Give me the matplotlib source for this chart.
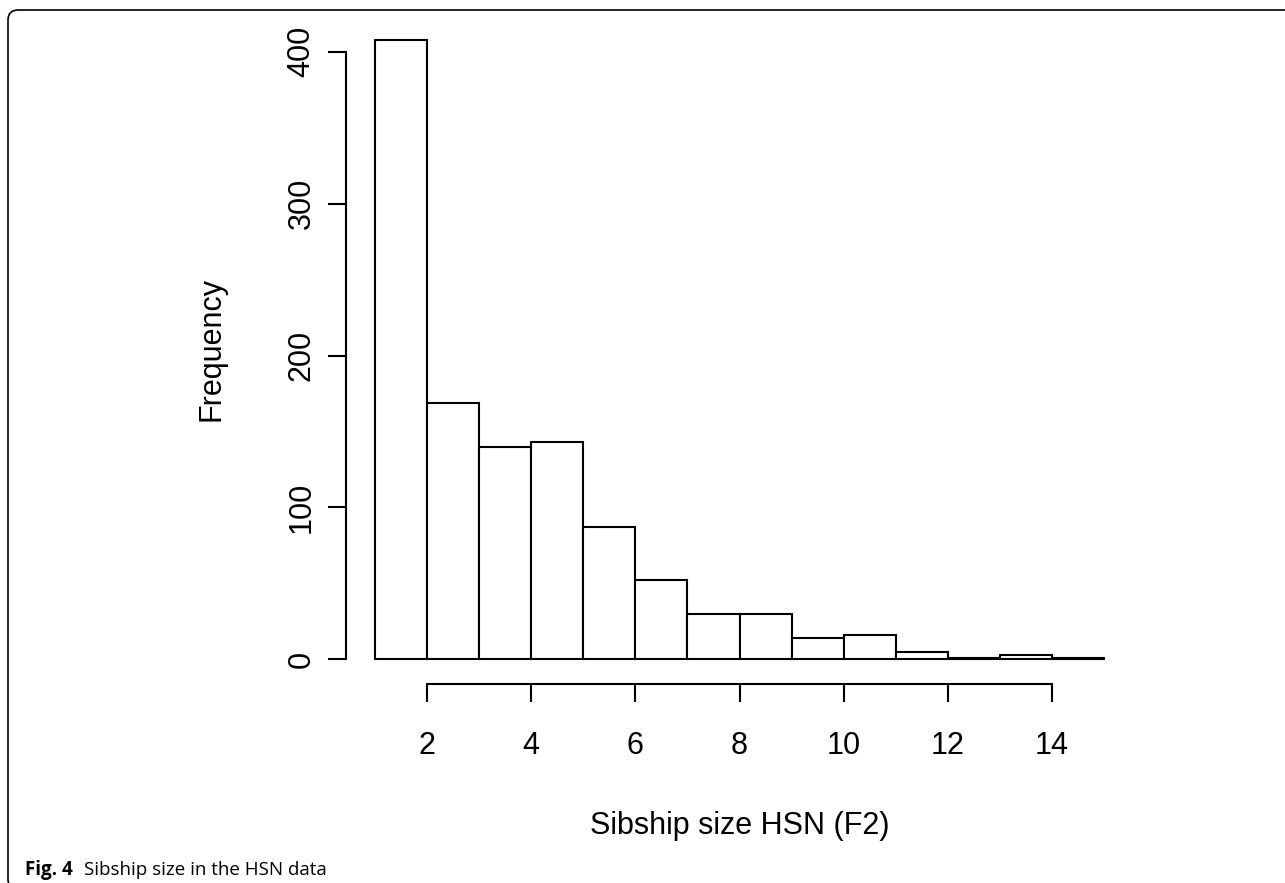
import matplotlib
matplotlib.use('Agg')
import matplotlib.pyplot as plt
from matplotlib.patches import FancyBboxPatch
from matplotlib.transforms import IdentityTransform

# sibship size histogram, bins of width 1 from 1 to 15
bin_left = [1, 2, 3, 4, 5, 6, 7, 8, 9, 10, 11, 12, 13, 14]
counts = [408, 169, 140, 143, 87, 52, 30, 30, 14, 16, 5, 1, 3, 1]
xticks = [2, 4, 6, 8, 10, 12, 14]
yticks = [0, 100, 200, 300, 400]

plt.rcParams['font.family'] = ['Liberation Sans', 'DejaVu Sans']

W, H = 1285, 883
fig = plt.figure(figsize=(W / 100, H / 100), dpi=100)
ax = fig.add_axes([345.8 / W, (H - 684.1) / H, 787.5 / W, 669.3 / H])

ax.bar(bin_left, counts, width=1, align='edge', facecolor='white',
       edgecolor='black', lw=1.5)

ax.set_xlim(0.44, 15.56)
ax.set_ylim(-16.32, 424.32)

for s in ['top', 'right']:
	ax.spines[s].set_visible(False)
ax.spines['left'].set_bounds(0, 400)
ax.spines['bottom'].set_bounds(2, 14)
for s in ['left', 'bottom']:
	ax.spines[s].set_linewidth(1.5)

ax.set_xticks(xticks)
ax.set_yticks(yticks)
ax.set_yticklabels([str(v) for v in yticks], rotation=90, va='center')
ax.tick_params(axis='both', length=13, width=1.5, labelsize=22)
ax.tick_params(axis='y', pad=8)
ax.tick_params(axis='x', pad=21)

ax.set_xlabel('Sibship size HSN (F2)', fontsize=22, labelpad=36)
ax.set_ylabel('Frequency', fontsize=22, labelpad=43)

# rounded frame of the figure panel (only top and left edges fall inside)
frame = FancyBboxPatch((8, -6), 1400, 879,
                       boxstyle='round,pad=0,rounding_size=10',
                       transform=IdentityTransform(), fill=False,
                       edgecolor='black', lw=1.2, clip_on=False)
fig.add_artist(frame)

fig.text(25 / W, 1 - 875 / H, 'Fig. 4', fontsize=13.5, fontweight='bold',
         family=['Open Sans', 'DejaVu Sans'], ha='left', va='baseline')
fig.text(84 / W, 1 - 875 / H, 'Sibship size in the HSN data', fontsize=13.5,
         family=['Open Sans', 'DejaVu Sans'], ha='left', va='baseline')

fig.savefig('out.png', dpi=100)
